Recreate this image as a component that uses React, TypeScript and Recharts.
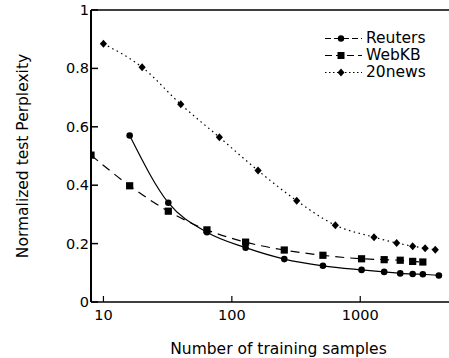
import { LineChart, Line, XAxis, YAxis, ReferenceLine, Label } from 'recharts'

const reutersX = [16, 32, 64, 128, 256, 512, 1024, 1536, 2048, 2560, 3072, 4096]
const reutersY = [0.57, 0.34, 0.239, 0.186, 0.147, 0.124, 0.11, 0.103, 0.098, 0.096, 0.095, 0.091]
const webkbX = [8, 16, 32, 64, 128, 256, 512, 1024, 1536, 2048, 2560, 3072]
const webkbY = [0.503, 0.398, 0.311, 0.247, 0.205, 0.178, 0.16, 0.148, 0.145, 0.143, 0.139, 0.137]
const newsX = [10, 20, 40, 80, 160, 320, 640, 1280, 1920, 2560, 3200, 3840]
const newsY = [0.884, 0.804, 0.677, 0.564, 0.45, 0.347, 0.263, 0.222, 0.202, 0.191, 0.184, 0.179]

const xTicks = [10, 100, 1000]
const yTicks = [0, 0.2, 0.4, 0.6, 0.8, 1]

const zip = (xs: number[], ys: number[]) => xs.map((x, i) => ({ x, y: ys[i] }))
const reuters = zip(reutersX, reutersY)
const webkb = zip(webkbX, webkbY)
const news = zip(newsX, newsY)

const FONT = '"DejaVu Sans", Verdana, sans-serif'

const Circle = (p: any) => <circle key={p.index} cx={p.cx} cy={p.cy} r={3.3} fill="#000" />
const Square = (p: any) => <rect key={p.index} x={p.cx - 3.6} y={p.cy - 3.6} width={7.2} height={7.2} fill="#000" />
const Diamond = (p: any) => (
  <path key={p.index} d={`M${p.cx},${p.cy - 4}L${p.cx + 3.6},${p.cy}L${p.cx},${p.cy + 4}L${p.cx - 3.6},${p.cy}Z`} fill="#000" />
)

const YTick = (p: any) => (
  <g>
    <line x1={p.x + 3} x2={p.x + 10} y1={p.y} y2={p.y} stroke="#000" strokeWidth={1.5} />
    <text x={p.x + 1} y={p.y} dy={5} textAnchor="end" fontSize={14.5} fontFamily={FONT} fill="#000">
      {p.payload.value}
    </text>
  </g>
)

const YTickRight = (p: any) => (
  <line x1={p.x} x2={p.x - 6} y1={p.y} y2={p.y} stroke="#000" strokeWidth={1.2} />
)

const XTick = (p: any) => (
  <g>
    <line x1={p.x} x2={p.x} y1={p.y - 2} y2={p.y - 8} stroke="#000" strokeWidth={1.2} />
    <text x={p.x} y={p.y} dy={16} textAnchor="middle" fontSize={14.5} fontFamily={FONT} fill="#000">
      {p.payload.value}
    </text>
  </g>
)

const legendItems = [
  { name: 'Reuters', dash: '6 3', marker: 'circle' },
  { name: 'WebKB', dash: '7 4', marker: 'square' },
  { name: '20news', dash: '1.5 2.5', marker: 'diamond' },
]

function LegendBox() {
  return (
    <div
      style={{
        position: 'absolute',
        top: 30,
        left: 323,
        fontFamily: FONT,
        fontSize: 15.5,
        lineHeight: '17px',
        color: '#000',
      }}
    >
      {legendItems.map((it) => (
        <div key={it.name} style={{ display: 'flex', alignItems: 'center' }}>
          <svg width={43} height={17}>
            <line x1={2} x2={39} y1={8.5} y2={8.5} stroke="#000" strokeWidth={1} strokeDasharray={it.dash} />
            {it.marker === 'circle' && <circle cx={18} cy={8.5} r={3.2} fill="#000" />}
            {it.marker === 'square' && <rect x={14.5} y={5} width={7} height={7} fill="#000" />}
            {it.marker === 'diamond' && <path d="M18,4.5L21.5,8.5L18,12.5L14.5,8.5Z" fill="#000" />}
          </svg>
          <span>{it.name}</span>
        </div>
      ))}
    </div>
  )
}

export default function App() {
  return (
    <div style={{ position: 'absolute', left: 0, top: 0, width: 449, height: 358, overflow: 'hidden', background: '#fff' }}>
      <LineChart width={460} height={358} margin={{ top: 10, right: 10, left: 0, bottom: 0 }}>
        <XAxis
          type="number"
          dataKey="x"
          scale="log"
          domain={[8, 5000]}
          ticks={xTicks}
          allowDataOverflow
          tick={XTick}
          tickLine={false}
          tickSize={0}
          height={56}
          axisLine={{ stroke: '#000', strokeWidth: 1.5 }}
        >
          <Label value="Number of training samples" position="insideBottom" offset={4} dx={8} fontSize={15.5} fontFamily={FONT} fill="#000" />
        </XAxis>
        <YAxis
          yAxisId="l"
          type="number"
          domain={[0, 1]}
          ticks={yTicks}
          tick={YTick}
          tickLine={false}
          tickSize={0}
          tickMargin={3}
          width={91}
          axisLine={{ stroke: '#000', strokeWidth: 2 }}
        >
          <Label value="Normalized test Perplexity" angle={-90} position="insideLeft" offset={22} fontSize={15.5} fontFamily={FONT} fill="#000" style={{ textAnchor: 'middle' }} />
        </YAxis>
        <YAxis
          yAxisId="r"
          orientation="right"
          type="number"
          domain={[0, 1]}
          ticks={yTicks}
          tick={YTickRight}
          tickLine={false}
          tickSize={0}
          tickMargin={0}
          width={0}
          axisLine={false}
        />
        <ReferenceLine yAxisId="l" y={1} stroke="#000" strokeWidth={1.5} />
        <Line
          yAxisId="l"
          data={reuters}
          dataKey="y"
          name="Reuters"
          type="monotone"
          stroke="#000"
          strokeWidth={1.2}
          dot={Circle}
          isAnimationActive={false}
        />
        <Line
          yAxisId="l"
          data={webkb}
          dataKey="y"
          name="WebKB"
          type="monotone"
          stroke="#000"
          strokeWidth={1.2}
          strokeDasharray="9 6"
          dot={Square}
          isAnimationActive={false}
        />
        <Line
          yAxisId="l"
          data={news}
          dataKey="y"
          name="20news"
          type="monotone"
          stroke="#000"
          strokeWidth={1.2}
          strokeDasharray="1.5 3.5"
          dot={Diamond}
          isAnimationActive={false}
        />
      </LineChart>
      <LegendBox />
    </div>
  )
}
